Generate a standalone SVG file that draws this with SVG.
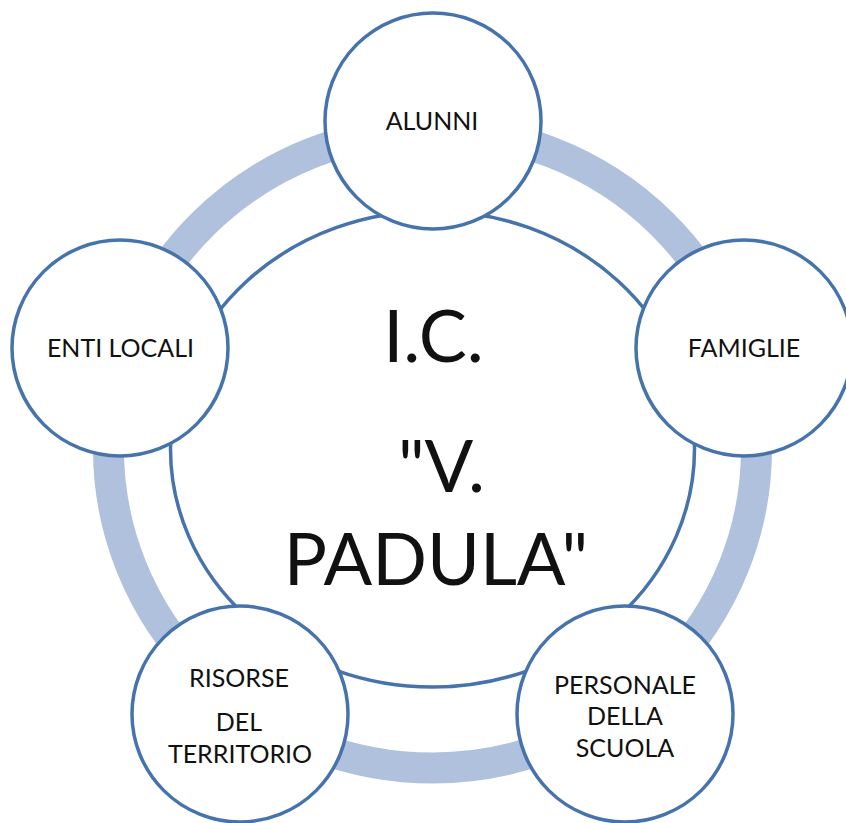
<svg xmlns="http://www.w3.org/2000/svg" width="846" height="823" viewBox="0 0 846 823">
<style>
.ring{fill:none;stroke:#B0C1DD;stroke-width:31}
.node{fill:#FFFFFF;stroke:#4673AC;stroke-width:3.5}
.lbl{font-family:Lato,"Liberation Sans",sans-serif;font-size:25px;fill:#111111;text-anchor:middle}
.big{font-family:Lato,"Liberation Sans",sans-serif;font-size:72px;fill:#111111;text-anchor:middle}
</style>
<rect width="846" height="823" fill="#FFFFFF"/>
<g id="connectors">
<ellipse class="ring" cx="432.5" cy="449" rx="324" ry="319"/>
</g>
<g id="center">
<ellipse class="node" cx="432.5" cy="449" rx="262" ry="238"/>
<text class="big" x="433.5" y="362">I.C.</text>
<text class="big" x="441.5" y="492">"V.</text>
<text class="big" x="436" y="585">PADULA"</text>
</g>
<g id="alunni">
<circle class="node" cx="433" cy="121" r="108"/>
<text class="lbl" x="432" y="130">ALUNNI</text>
</g>
<g id="famiglie">
<circle class="node" cx="744" cy="348" r="108"/>
<text class="lbl" x="744" y="357">FAMIGLIE</text>
</g>
<g id="personale">
<circle class="node" cx="625" cy="714" r="108"/>
<text class="lbl" x="625" y="694">PERSONALE</text>
<text class="lbl" x="625" y="725">DELLA</text>
<text class="lbl" x="625" y="757">SCUOLA</text>
</g>
<g id="risorse">
<circle class="node" cx="240" cy="714" r="108"/>
<text class="lbl" x="239" y="687">RISORSE</text>
<text class="lbl" x="239" y="731">DEL</text>
<text class="lbl" x="240" y="763">TERRITORIO</text>
</g>
<g id="enti">
<circle class="node" cx="120" cy="348" r="108"/>
<text class="lbl" x="120.5" y="357">ENTI LOCALI</text>
</g>
</svg>
